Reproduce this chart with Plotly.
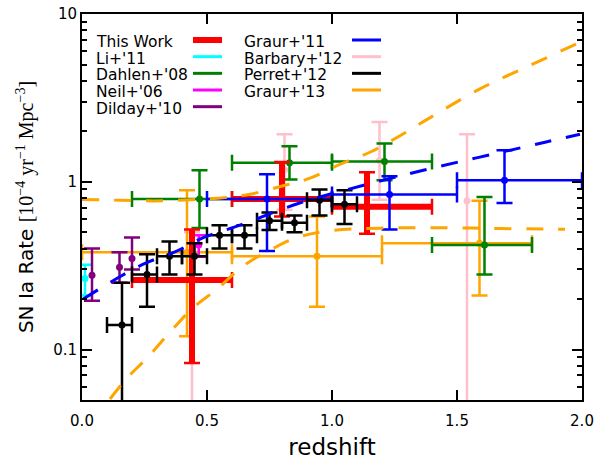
import plotly.graph_objects as go

# ---------------- data ----------------
# This Work
tw_z = [0.44, 0.80, 1.14]
tw_zlo = [0.20, 0.60, 1.00]
tw_zhi = [0.60, 1.00, 1.40]
tw_r = [0.26, 0.79, 0.71]
tw_rlo = [0.083, 0.62, 0.49]
tw_rhi = [0.52, 1.31, 1.14]

# Li+'11
li_z = [0.012]
li_r = [0.265]
li_rlo = [0.21]
li_rhi = [0.32]

# Dahlen+'08
da_z = [0.47, 0.83, 1.21, 1.61]
da_zlo = [0.20, 0.60, 1.00, 1.40]
da_zhi = [0.60, 1.00, 1.40, 1.80]
da_r = [0.79, 1.30, 1.32, 0.42]
da_rlo = [0.53, 1.03, 1.02, 0.28]
da_rhi = [1.17, 1.63, 1.69, 0.81]

# Neil+'06
ne_z = [0.467]
ne_r = [0.42]
ne_rlo = [0.357]
ne_rhi = [0.48]

# Dilday+'10
di_z = [0.04, 0.15, 0.20]
di_r = [0.277, 0.309, 0.349]
di_rlo = [0.195, 0.25, 0.30]
di_rhi = [0.40, 0.38, 0.466]

# Graur+'11
g11_z = [0.74, 1.23, 1.69]
g11_zlo = [0.50, 1.00, 1.50]
g11_zhi = [1.00, 1.50, 2.00]
g11_r = [0.79, 0.84, 1.02]
g11_rlo = [0.386, 0.52, 0.748]
g11_rhi = [1.11, 1.08, 1.54]

# Barbary+'12
ba_z = [0.44, 0.81, 1.19, 1.54]
ba_r = [0.26, 1.18, 1.34, 0.77]
ba_rlo = [0.01, 0.68, 0.78, 0.01]
ba_rhi = [0.50, 1.92, 2.27, 1.92]

# Perret+'12
pe_z = [0.16, 0.26, 0.35, 0.45, 0.55, 0.65, 0.75, 0.85, 0.95, 1.05]
pe_zlo = [0.10, 0.20, 0.30, 0.40, 0.50, 0.60, 0.70, 0.80, 0.90, 1.00]
pe_zhi = [0.20, 0.30, 0.40, 0.50, 0.60, 0.70, 0.80, 0.90, 1.00, 1.10]
pe_r = [0.14, 0.28, 0.36, 0.36, 0.48, 0.48, 0.585, 0.57, 0.776, 0.735]
pe_rlo = [0.01, 0.18, 0.28, 0.28, 0.40, 0.40, 0.515, 0.50, 0.63, 0.56]
pe_rhi = [0.25, 0.37, 0.44, 0.43, 0.55, 0.55, 0.656, 0.63, 0.90, 0.89]

# Graur+'13
g13_z = [0.42, 0.94, 1.59]
g13_zlo = [0.00, 0.60, 1.20]
g13_zhi = [0.60, 1.20, 1.80]
g13_r = [0.38, 0.36, 0.43]
g13_rlo = [0.12, 0.18, 0.21]
g13_rhi = [0.89, 0.62, 0.77]

# model curves (dashed), read point by point
blue_curve_z = [0.005, 0.139, 0.252, 0.372, 0.492, 0.612, 0.865, 1.052, 1.365, 1.852, 1.992]
blue_curve_r = [0.20, 0.265, 0.326, 0.382, 0.469, 0.538, 0.742, 0.89, 1.17, 1.72, 1.92]

orange1_z = [0.0, 0.152, 0.292, 0.432, 0.544, 0.672, 0.812, 0.912, 1.036, 1.156, 1.272, 1.384, 1.592, 1.792, 1.992]
orange1_r = [0.784, 0.776, 0.769, 0.781, 0.798, 0.843, 0.953, 1.05, 1.28, 1.51, 1.88, 2.37, 3.58, 4.94, 6.79]

orange2_z = [0.112, 0.18, 0.264, 0.356, 0.444, 0.54, 0.644, 0.756, 0.864, 0.992, 1.192, 1.452, 1.672, 1.932]
orange2_r = [0.0507, 0.0676, 0.0902, 0.129, 0.177, 0.229, 0.314, 0.394, 0.467, 0.511, 0.529, 0.532, 0.526, 0.521]

# legend
legend_col1 = ["This Work", "Li+'11", "Dahlen+'08", "Neil+'06", "Dilday+'10"]
legend_col1_colors = ["#ff0000", "#00ffff", "#008000", "#ff00ff", "#800080"]
legend_col2 = ["Graur+'11", "Barbary+'12", "Perret+'12", "Graur+'13"]
legend_col2_colors = ["#0000ff", "#ffc0cb", "#000000", "#ffa500"]

x_ticks = [0.0, 0.5, 1.0, 1.5, 2.0]
y_ticks = [0.1, 1, 10]
y_ticktext = ["0.1", "1", "10"]
y_minor = [0.05, 0.06, 0.07, 0.08, 0.09, 0.2, 0.3, 0.4, 0.5, 0.6, 0.7, 0.8, 0.9,
           2, 3, 4, 5, 6, 7, 8, 9]

# ---------------- figure ----------------
fig = go.Figure()


def err(v, lo, hi, color, thick, cap):
    return dict(type="data", symmetric=False,
                array=[h - a for a, h in zip(v, hi)],
                arrayminus=[a - l for a, l in zip(v, lo)],
                color=color, thickness=thick, width=cap)


def add_points(z, r, rlo, rhi, color, zlo=None, zhi=None, thick=2.5, cap=8, msize=7):
    ex = err(z, zlo, zhi, color, thick, cap) if zlo is not None else None
    fig.add_trace(go.Scatter(
        x=z, y=r, mode="markers",
        marker=dict(color=color, size=msize, line=dict(width=0)),
        error_x=ex, error_y=err(r, rlo, rhi, color, thick, cap),
        showlegend=False, hoverinfo="skip"))


add_points(ba_z, ba_r, ba_rlo, ba_rhi, "#ffc0cb")
add_points(g13_z, g13_r, g13_rlo, g13_rhi, "#ffa500", g13_zlo, g13_zhi)
add_points(li_z, li_r, li_rlo, li_rhi, "#00ffff")
add_points(di_z, di_r, di_rlo, di_rhi, "#800080")
add_points(da_z, da_r, da_rlo, da_rhi, "#008000", da_zlo, da_zhi)
add_points(ne_z, ne_r, ne_rlo, ne_rhi, "#ff00ff")
# This Work: thick bars plus thin caps
add_points(tw_z, tw_r, tw_rlo, tw_rhi, "#ff0000", tw_zlo, tw_zhi, thick=6, cap=0, msize=8)
add_points(tw_z, tw_r, tw_rlo, tw_rhi, "#ff0000", tw_zlo, tw_zhi, thick=2.5, cap=8, msize=8)
add_points(g11_z, g11_r, g11_rlo, g11_rhi, "#0000ff", g11_zlo, g11_zhi)
add_points(pe_z, pe_r, pe_rlo, pe_rhi, "#000000", pe_zlo, pe_zhi)

dash = "17px,15px"
fig.add_trace(go.Scatter(x=blue_curve_z, y=blue_curve_r, mode="lines",
                         line=dict(color="#0000ff", width=3, dash=dash, shape="spline"),
                         showlegend=False, hoverinfo="skip"))
fig.add_trace(go.Scatter(x=orange1_z, y=orange1_r, mode="lines",
                         line=dict(color="#ffa500", width=3, dash=dash, shape="spline"),
                         showlegend=False, hoverinfo="skip"))
fig.add_trace(go.Scatter(x=orange2_z, y=orange2_r, mode="lines",
                         line=dict(color="#ffa500", width=3, dash=dash, shape="spline"),
                         showlegend=False, hoverinfo="skip"))

# ---------------- manual legend (labels left, handles right) ----------------
L, T, W, H = 82, 14, 500, 386
FW, FH = 597, 463


def px_x(p):
    return (p - L) / W


def px_y(p):
    return (T + H - p) / H


row0, dy = 42.0, 16.67
shapes = []
annotations = []
for col, (labels, colors, tx, hx0, hx1) in enumerate([
        (legend_col1, legend_col1_colors, 94, 193, 222),
        (legend_col2, legend_col2_colors, 242, 352, 381)]):
    for i, (lab, colr) in enumerate(zip(labels, colors)):
        yy = row0 + i * dy
        annotations.append(dict(x=px_x(tx), y=px_y(yy), xref="paper", yref="paper",
                                text=lab, showarrow=False, xanchor="left", yanchor="middle",
                                font=dict(family="DejaVu Sans", size=15.5, color="black")))
        lw = 6 if (col == 0 and i == 0) else 3
        shapes.append(dict(type="line", xref="paper", yref="paper",
                           x0=px_x(hx0), x1=px_x(hx1), y0=px_y(yy - 2), y1=px_y(yy - 2),
                           line=dict(color=colr, width=lw)))

fig.update_layout(
    width=FW, height=FH,
    margin=dict(l=L, r=FW - L - W, t=T, b=FH - T - H, autoexpand=False),
    paper_bgcolor="white", plot_bgcolor="white",
    font=dict(family="DejaVu Sans", size=15, color="black"),
    shapes=shapes, annotations=annotations,
    showlegend=False,
)

fig.update_xaxes(
    range=[0, 2], tickvals=x_ticks, tickformat=".1f",
    ticks="inside", ticklen=10, tickwidth=1.5, tickcolor="black",
    showline=True, linewidth=2, linecolor="black", mirror="ticks",
    showgrid=False, zeroline=False, automargin=False,
    ticklabeloverflow="allow", ticklabelstandoff=6,
    tickfont=dict(size=15),
    title=dict(text="redshift", font=dict(size=23), standoff=10),
)
fig.update_yaxes(
    type="log", range=[-1.30103, 1.0001],
    tickvals=y_ticks, ticktext=y_ticktext,
    ticks="inside", ticklen=10, tickwidth=1.5, tickcolor="black",
    minor=dict(tickvals=y_minor, ticks="inside", ticklen=5, tickwidth=1.5, tickcolor="black"),
    showline=True, linewidth=2, linecolor="black", mirror="ticks",
    showgrid=False, zeroline=False, automargin=False,
    ticklabeloverflow="allow",
    tickfont=dict(size=15),
    title=dict(text="SN Ia Rate <span style='font-family:Liberation Serif'>"
                    "[10<sup>\u22124</sup> yr<sup>\u22121</sup> Mpc<sup>\u22123</sup>]</span>",
               font=dict(size=20), standoff=14),
)

fig.write_html("out.html",
               config={"displayModeBar": False},
               post_script="document.body.style.margin='0px';"
                           "document.body.style.overflow='hidden';")
